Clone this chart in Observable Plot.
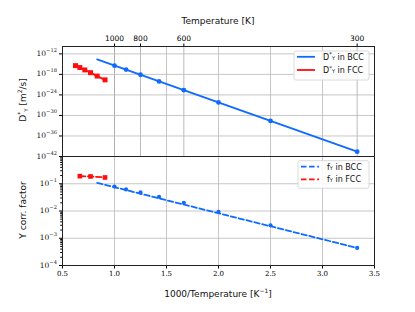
<!DOCTYPE html>
<html>
<head>
<meta charset="utf-8">
<script src="https://cdn.jsdelivr.net/npm/d3@7"></script>
<script src="https://cdn.jsdelivr.net/npm/@observablehq/plot@0.6"></script>
<style>
  html, body { margin: 0; padding: 0; background: #fff; }
  #wrap { position: relative; width: 415px; height: 312px; overflow: hidden; }
  #top, #bot { position: absolute; left: 0; }
  #top { top: 0; }
  #bot { top: 156px; }
  svg { overflow: visible; }
</style>
</head>
<body>
<div id="wrap"><div id="top"></div><div id="bot"></div></div>
<script>
// ---- data ----
const bccTemps = [1000, 900, 800, 700, 600, 500, 400, 300];
const bccD = [3.6e-16, 2.5e-17, 7.9e-19, 8.9e-21, 2.5e-23, 6.3e-27, 2.5e-32, 2.5e-41];
const bccF = [0.079, 0.062, 0.048, 0.033, 0.020, 0.0094, 0.0030, 0.00044];
const bccFitTemps = [1200, 300];
const bccFitD = [2.5e-14, 2.5e-41];
const bccFitF = [0.108, 0.00044];
const fccTempsD = [1600, 1500, 1400, 1300, 1200, 1100];
const fccD = [3.6e-16, 1.0e-16, 2.0e-17, 3.2e-18, 3.2e-19, 2.5e-20];
const fccTempsF = [1500, 1300, 1100];
const fccF = [0.19, 0.185, 0.17];
const topTickTemps = [1000, 800, 600, 300];
const bottomTicks = [0.5, 1.0, 1.5, 2.0, 2.5, 3.0, 3.5];
const topDecades = [-12, -18, -24, -30, -36, -42];
const botDecades = [-1, -2, -3, -4];

const BLUE = "#0f6bff", RED = "#ff0d0d";
const rows = (temps, vals) => temps.map((t, i) => ({x: 1000 / t, y: vals[i]}));
const W = 415, ML = 62, MR = 41;
const xDomain = [0.5, 3.5];
const gridC = "#b8b8b8";
const tickFont = "DejaVu Serif";

// ---- top panel ----
const topPlot = Plot.plot({
  width: W, height: 156, marginTop: 46, marginBottom: 0, marginLeft: ML, marginRight: MR,
  style: {fontFamily: "DejaVu Sans", fontSize: "7.5px", background: "transparent"},
  x: {domain: xDomain},
  y: {type: "log", domain: [1e-42, Math.pow(10, -9.85)]},
  marks: [
    Plot.gridX([1, 1.5, 2, 2.5, 3], {stroke: gridC, strokeOpacity: 1, strokeWidth: 0.8}),
    Plot.gridX(topTickTemps.map(t => 1000 / t), {stroke: "#a8a8a8", strokeOpacity: 1, strokeWidth: 0.8}),
    Plot.gridY(topDecades.map(e => Math.pow(10, e)), {stroke: gridC, strokeOpacity: 1, strokeWidth: 0.8}),
    Plot.axisX(topTickTemps.map(t => 1000 / t), {anchor: "top", tickSize: 3.5, tickPadding: 2,
      tickFormat: d => String(Math.round(1000 / d)), label: null, fontSize: "7.5px"}),
    Plot.axisX([], {anchor: "bottom", label: null}),
    Plot.axisY(topDecades.map(e => Math.pow(10, e)), {anchor: "left", tickSize: 3, tickFormat: () => "", label: null}),
    Plot.line(rows(bccFitTemps, bccFitD), {x: "x", y: "y", stroke: BLUE, strokeWidth: 1.8}),
    Plot.dot(rows(bccTemps, bccD), {x: "x", y: "y", fill: BLUE, r: 2.4}),
    Plot.line(rows(fccTempsD, fccD), {x: "x", y: "y", stroke: RED, strokeWidth: 1.8}),
    Plot.dot(rows(fccTempsD, fccD), {x: "x", y: "y", fill: RED, symbol: "square", r: 2.8}),
    Plot.frame({stroke: "#222", strokeWidth: 1})
  ]
});

// ---- bottom panel ----
const minorBot = [];
for (let e = -4; e < 0; e++) for (let m = 2; m <= 9; m++) minorBot.push(m * Math.pow(10, e));
const botPlot = Plot.plot({
  width: W, height: 156, marginTop: 0, marginBottom: 47, marginLeft: ML, marginRight: MR,
  style: {fontFamily: "DejaVu Sans", fontSize: "7.5px", background: "transparent"},
  x: {domain: xDomain},
  y: {type: "log", domain: [1e-4, 1]},
  marks: [
    Plot.gridX([1, 1.5, 2, 2.5, 3], {stroke: gridC, strokeOpacity: 1, strokeWidth: 0.8}),
    Plot.gridY(botDecades.map(e => Math.pow(10, e)), {stroke: gridC, strokeOpacity: 1, strokeWidth: 0.8}),
    Plot.axisX(bottomTicks, {anchor: "bottom", tickSize: 3.5, tickPadding: 2.5,
      tickFormat: d => d.toFixed(1), label: null, fontFamily: tickFont, fontSize: "7px"}),
    Plot.axisY(botDecades.map(e => Math.pow(10, e)), {anchor: "left", tickSize: 3, tickFormat: () => "", label: null}),
    Plot.axisY(minorBot, {anchor: "left", tickSize: 1.8, tickFormat: () => "", label: null}),
    Plot.line(rows(bccFitTemps, bccFitF), {x: "x", y: "y", stroke: BLUE, strokeWidth: 1.8, strokeDasharray: "5.5,2.6"}),
    Plot.dot(rows(bccTemps, bccF), {x: "x", y: "y", fill: BLUE, r: 2.1}),
    Plot.line(rows(fccTempsF, fccF), {x: "x", y: "y", stroke: RED, strokeWidth: 1.8, strokeDasharray: "5.5,2.6"}),
    Plot.dot(rows(fccTempsF, fccF), {x: "x", y: "y", fill: RED, symbol: "square", r: 2.6}),
    Plot.frame({stroke: "#222", strokeWidth: 1})
  ]
});

document.getElementById("top").appendChild(topPlot);
document.getElementById("bot").appendChild(botPlot);

// ---- labels & legends ----
function addText(svg, x, y, parts, opts = {}) {
  const t = d3.select(svg).append("text")
    .attr("x", x).attr("y", y)
    .attr("font-family", opts.family || "DejaVu Sans").attr("font-size", opts.size || 9)
    .attr("fill", "#111")
    .attr("text-anchor", opts.anchor || "middle")
    .attr("dominant-baseline", "middle");
  if (opts.rotate) t.attr("transform", `rotate(-90 ${x} ${y})`);
  parts.forEach(p => {
    const s = t.append("tspan").text(p.t);
    if (p.fs) s.attr("font-size", p.fs);
    if (p.dy) s.attr("dy", p.dy);
    if (p.dx) s.attr("dx", p.dx);
  });
  return t;
}
// y tick labels (10 with superscript exponent), positioned with the plot's own y scale
function decadeLabels(plot, decades) {
  const ys = plot.scale("y");
  decades.forEach(e => {
    const y = ys.apply(Math.pow(10, e));
    addText(plot, ML - 5, y + 0.5, [{t: "10"}, {t: "\u2212" + Math.abs(e), fs: 5.2, dy: -3}],
      {anchor: "end", size: 7.5, family: tickFont});
  });
}
decadeLabels(topPlot, topDecades);
decadeLabels(botPlot, botDecades);

addText(topPlot, 218, 21, [{t: "Temperature [K]"}]);
addText(botPlot, 218, 138, [{t: "1000/Temperature [K"}, {t: "\u22121", fs: 6, dy: -3.5}, {t: "]", dy: 3.5}]);
addText(topPlot, 23, 100, [{t: "D"}, {t: "*", fs: 6, dy: -3}, {t: "Y", fs: 5.5, dy: 5.5}, {t: " [m", dy: -2.5}, {t: "2", fs: 6, dy: -3}, {t: "/s]", dy: 3}], {rotate: true});
addText(botPlot, 23, 54, [{t: "Y corr. factor"}], {rotate: true});

function legend(svg, x0, y0, w, h, items) {
  const g = d3.select(svg).append("g");
  g.append("rect").attr("x", x0).attr("y", y0).attr("width", w).attr("height", h)
    .attr("rx", 2).attr("fill", "white").attr("fill-opacity", 0.85)
    .attr("stroke", "#d0d0d0").attr("stroke-width", 0.8);
  items.forEach(it => {
    const y = y0 + it.dy;
    g.append("line").attr("x1", x0 + 3).attr("x2", x0 + 21).attr("y1", y).attr("y2", y)
      .attr("stroke", it.color).attr("stroke-width", 1.8)
      .attr("stroke-dasharray", it.dash || null);
    addText(svg, x0 + it.tx, y, it.parts, {anchor: "start", size: 8});
  });
}
legend(topPlot, 294, 51, 75, 29, [
  {color: BLUE, dy: 5.8, tx: 29, parts: [{t: "D"}, {t: "*", fs: 5.5, dy: -2.5}, {t: "Y", fs: 5, dy: 4.5}, {t: " in BCC", dy: -2}]},
  {color: RED, dy: 19, tx: 29, parts: [{t: "D"}, {t: "*", fs: 5.5, dy: -2.5}, {t: "Y", fs: 5, dy: 4.5}, {t: " in FCC", dy: -2}]}
]);
legend(botPlot, 298, 4.7, 71, 27.6, [
  {color: BLUE, dash: "5.5,2.6", dy: 6, tx: 29, parts: [{t: "f"}, {t: "Y", fs: 5, dy: 2}, {t: " in BCC", dy: -2}]},
  {color: RED, dash: "5.5,2.6", dy: 18.6, tx: 29, parts: [{t: "f"}, {t: "Y", fs: 5, dy: 2}, {t: " in FCC", dy: -2}]}
]);
</script>
</body>
</html>
